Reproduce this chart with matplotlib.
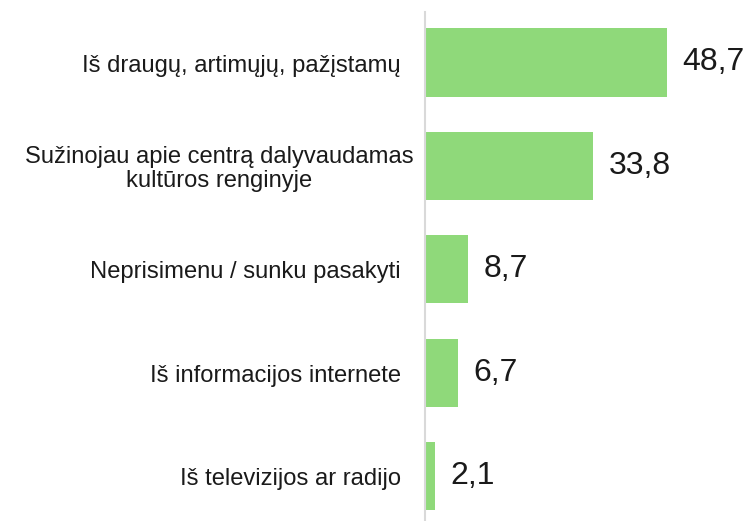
import matplotlib.pyplot as plt

# Answers (how respondents learned about the centre) and percentages
categories = ['Iš draugų, artimųjų, pažįstamų',
              'Sužinojau apie centrą dalyvaudamas\nkultūros renginyje',
              'Neprisimenu / sunku pasakyti',
              'Iš informacijos internete',
              'Iš televizijos ar radijo']
values = [48.7, 33.8, 8.7, 6.7, 2.1]
value_labels = ['48,7', '33,8', '8,7', '6,7', '2,1']

plt.rcParams['font.family'] = ['Liberation Sans', 'DejaVu Sans']

fig = plt.figure(figsize=(7.47, 5.21), dpi=100)
ax = fig.add_axes([425 / 747, 0, 322 / 747, 1 - 12 / 521])

pos = list(range(len(categories)))
ax.barh(pos, values, height=0.66, color='#8FD97A')

for p, v, lab in zip(pos, values, value_labels):
    ax.text(v + 3.1, p, lab, va='center', ha='left', fontsize=23, color='#1a1a1a')

# category labels left of the axis; the wrapped one sits a bit closer
for p, cat in zip(pos, categories):
    off = -8.5 if '\n' in cat else -17.5
    ax.annotate(cat, xy=(0, p), xycoords=('axes fraction', 'data'),
                xytext=(off, -2.2), textcoords='offset points',
                ha='right', va='center', multialignment='center',
                fontsize=17.1, color='#1a1a1a', linespacing=1.15)

ax.set_xlim(0, 64.8)
ax.set_ylim(4.435, -0.488)
ax.set_xticks([])
ax.set_yticks([])

for s in ['top', 'right', 'bottom']:
    ax.spines[s].set_visible(False)
ax.spines['left'].set_color('#D9D9D9')
ax.spines['left'].set_linewidth(1.5)

fig.savefig('out.png', dpi=100)
